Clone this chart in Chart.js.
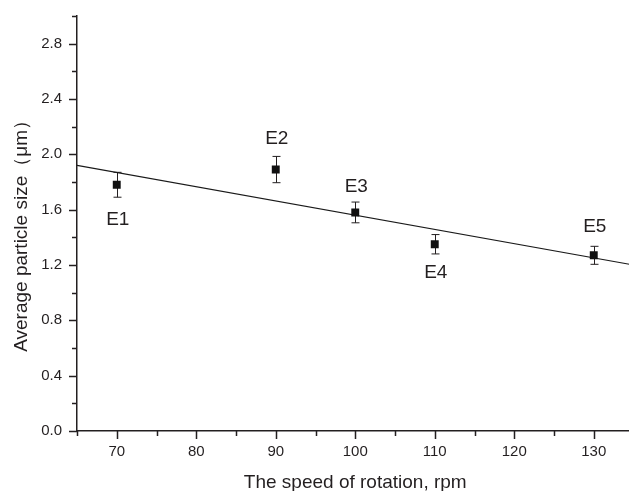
<!DOCTYPE html>
<html>
<head>
<meta charset="utf-8">
<script src="https://cdn.jsdelivr.net/npm/chart.js@4.4.1/dist/chart.umd.min.js"></script>
<style>
  html, body { margin: 0; padding: 0; background: #fff; overflow: hidden; }
  #wrap { position: relative; width: 645px; height: 491px; }
</style>
</head>
<body>
<div id="wrap"><canvas id="chart"></canvas></div>
<script>
/* ================= DATA ================= */
const sampleNames = ["E1", "E2", "E3", "E4", "E5"];
const speeds = [70, 90, 100, 110, 130];
const sizes = [1.78, 1.89, 1.58, 1.35, 1.27];
const errors = [0.09, 0.095, 0.075, 0.07, 0.065];

const fitX = [65, 135];
const fitY = [1.92, 1.20];

const xTickLabels = [70, 80, 90, 100, 110, 120, 130];
const yTickLabels = ["0.0", "0.4", "0.8", "1.2", "1.6", "2.0", "2.4", "2.8"];

/* ================= HELPERS ================= */
const INK = "#231f20";
const FONT = "'Liberation Sans', Arial, sans-serif";

/* ================= PLUGINS ================= */
// error bars, drawn under the markers
const errorBars = {
  id: "errorBars",
  beforeDatasetsDraw(chart) {
    const { ctx, scales: { x, y } } = chart;
    ctx.save();
    ctx.strokeStyle = INK;
    ctx.lineWidth = 1;
    speeds.forEach((s, i) => {
      const px = Math.round(x.getPixelForValue(s)) + 0.5;
      const top = y.getPixelForValue(sizes[i] + errors[i]);
      const bot = y.getPixelForValue(sizes[i] - errors[i]);
      ctx.beginPath();
      ctx.moveTo(px, top); ctx.lineTo(px, bot);
      ctx.moveTo(px - 4, top); ctx.lineTo(px + 4, top);
      ctx.moveTo(px - 4, bot); ctx.lineTo(px + 4, bot);
      ctx.stroke();
    });
    ctx.restore();
  }
};

// E1..E5 next to the points
const pointNames = {
  id: "pointNames",
  afterDatasetsDraw(chart, args, opts) {
    const { ctx, scales: { x, y } } = chart;
    ctx.save();
    ctx.fillStyle = INK;
    ctx.font = "19px " + FONT;
    ctx.textAlign = "center";
    ctx.textBaseline = "middle";
    sampleNames.forEach((n, i) => {
      ctx.fillText(n, x.getPixelForValue(speeds[i]) + 1, y.getPixelForValue(sizes[i]) + opts.offsets[i]);
    });
    ctx.restore();
  }
};

// outward major / minor tick marks
const tickMarks = {
  id: "tickMarks",
  afterDraw(chart) {
    const { ctx, scales: { x, y } } = chart;
    ctx.save();
    ctx.strokeStyle = INK;
    ctx.lineWidth = 1.5;
    ctx.beginPath();
    x.ticks.forEach(t => {
      const px = Math.round(x.getPixelForValue(t.value)) + 0.5;
      const len = xTickLabels.includes(t.value) ? 8 : 5;
      ctx.moveTo(px, y.bottom); ctx.lineTo(px, y.bottom + len);
    });
    y.ticks.forEach(t => {
      const py = Math.round(y.getPixelForValue(t.value)) + 0.5;
      const len = yTickLabels.includes(t.value.toFixed(1)) ? 8 : 5;
      ctx.moveTo(x.left, py); ctx.lineTo(x.left - len, py);
    });
    ctx.stroke();
    ctx.restore();
  }
};

/* ================= CHART ================= */
new Chart(document.getElementById("chart"), {
  type: "scatter",
  data: {
    datasets: [
      {
        label: "samples",
        data: speeds.map((s, i) => ({ x: s, y: sizes[i] })),
        pointStyle: "rect",
        pointRadius: 5.6,
        pointBackgroundColor: "#111",
        pointBorderWidth: 0,
        showLine: false
      },
      {
        label: "fit",
        data: fitX.map((v, i) => ({ x: v, y: fitY[i] })),
        showLine: true,
        pointRadius: 0,
        borderColor: "#1a1a1a",
        borderWidth: 1.2
      }
    ]
  },
  options: {
    responsive: true,
    maintainAspectRatio: false,
    animation: false,
    layout: { padding: { top: 7, right: 11.5, bottom: 0, left: 0 } },
    plugins: {
      legend: { display: false },
      tooltip: { enabled: false },
      pointNames: { offsets: [35, -31, -26, 29, -29] }
    },
    scales: {
      x: {
        type: "linear",
        min: 65,
        max: 135,
        afterFit: s => { s.height = 60; },
        grid: { display: false },
        border: { display: true, color: INK, width: 1.5 },
        ticks: {
          stepSize: 5,
          autoSkip: false,
          maxRotation: 0,
          padding: 4,
          color: INK,
          font: { family: FONT, size: 15 },
          callback: v => (xTickLabels.includes(v) ? String(v) : "")
        },
        title: {
          display: true,
          text: "The speed of rotation, rpm",
          color: INK,
          font: { family: FONT, size: 19 },
          padding: { top: 0, bottom: -3 }
        }
      },
      y: {
        type: "linear",
        min: 0,
        max: 3,
        afterFit: s => { s.width = 77; },
        grid: { display: false },
        border: { display: true, color: INK, width: 1.5 },
        ticks: {
          stepSize: 0.2,
          autoSkip: false,
          padding: 7,
          color: INK,
          font: { family: FONT, size: 15 },
          callback: v => (yTickLabels.includes(v.toFixed(1)) ? v.toFixed(1) : "")
        },
        title: {
          display: true,
          text: "Average particle size（μm）\u00a0\u00a0\u00a0",
          color: INK,
          font: { family: FONT, size: 19 },
          padding: { top: 10, bottom: 0 }
        }
      }
    }
  },
  plugins: [errorBars, pointNames, tickMarks]
});
</script>
</body>
</html>
